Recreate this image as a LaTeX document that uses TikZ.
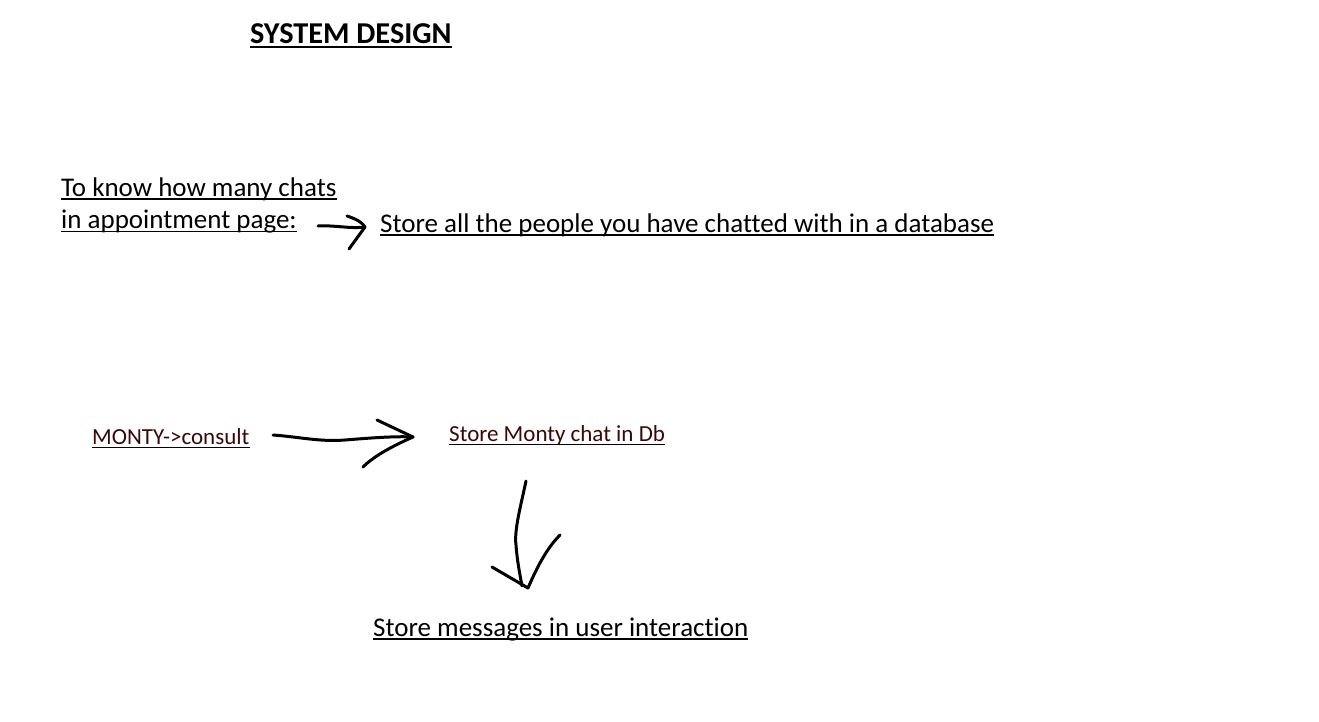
\documentclass[tikz,border=0pt]{standalone}
\usepackage{fontspec}
\setmainfont{Carlito}[Ligatures=CommonOff]
\definecolor{montyred}{RGB}{58,8,8}

\begin{document}
\begin{tikzpicture}[x=1pt,y=-1pt,
  txt/.style={anchor=base west,inner sep=0pt,font=\fontsize{27}{32}\selectfont},
  small/.style={font=\fontsize{23}{27}\selectfont,text=montyred},
  ul/.style={append after command={([yshift=-2.8pt]\tikzlastnode.base west)
      edge[line width=1.6pt] ([yshift=-2.8pt]\tikzlastnode.base east)}},
  thickul/.style={append after command={([yshift=-3.6pt]\tikzlastnode.base west)
      edge[line width=2.6pt] ([yshift=-3.6pt]\tikzlastnode.base east)}},
  hand/.style={line width=3pt,line cap=round,line join=round}]
\useasboundingbox (0,0) rectangle (1319,722);
\fill[white] (0,0) rectangle (1319,722);

% heading
\node[txt,thickul,font=\bfseries\fontsize{30.3}{34}\selectfont] (title) at (250,43.5) {SYSTEM DESIGN};

% first row
\node[txt,ul] (know1) at (61,196.5) {To know how many chats};
\node[txt,ul] (know2) at (61,228.5) {in appointment page:};
\node[txt,ul] (people) at (380,232) {Store all the people you have chatted with in a database};
\coordinate (tip1) at (365,227);
\draw[hand] (318,226) .. controls (335,225) and (350,229) .. (tip1);
\draw[hand] (347,216) .. controls (356,219) and (362,222) .. (tip1) -- (349,249);

% second row
\node[txt,small,ul] (monty) at (92,444.5) {MONTY->consult};
\node[txt,small,ul] (montydb) at (449,441.5) {Store Monty chat in Db};
\coordinate (tip2) at (413,437);
\draw[hand] (273,435) .. controls (300,437) and (320,442) .. (345,440) .. controls (370,438) and (395,436) .. (tip2);
\draw[hand] (377,420) -- (tip2) .. controls (395,445) and (375,455) .. (363,467);

% down to messages
\node[txt,ul] (msg) at (373,636) {Store messages in user interaction};
\coordinate (tip3) at (528,588);
\draw[hand] (526,481) .. controls (521,505) and (514,530) .. (516,545) .. controls (517,560) and (520,575) .. (522,586);
\draw[hand] (492,567) -- (tip3) .. controls (535,572) and (545,550) .. (560,535);
\end{tikzpicture}
\end{document}
